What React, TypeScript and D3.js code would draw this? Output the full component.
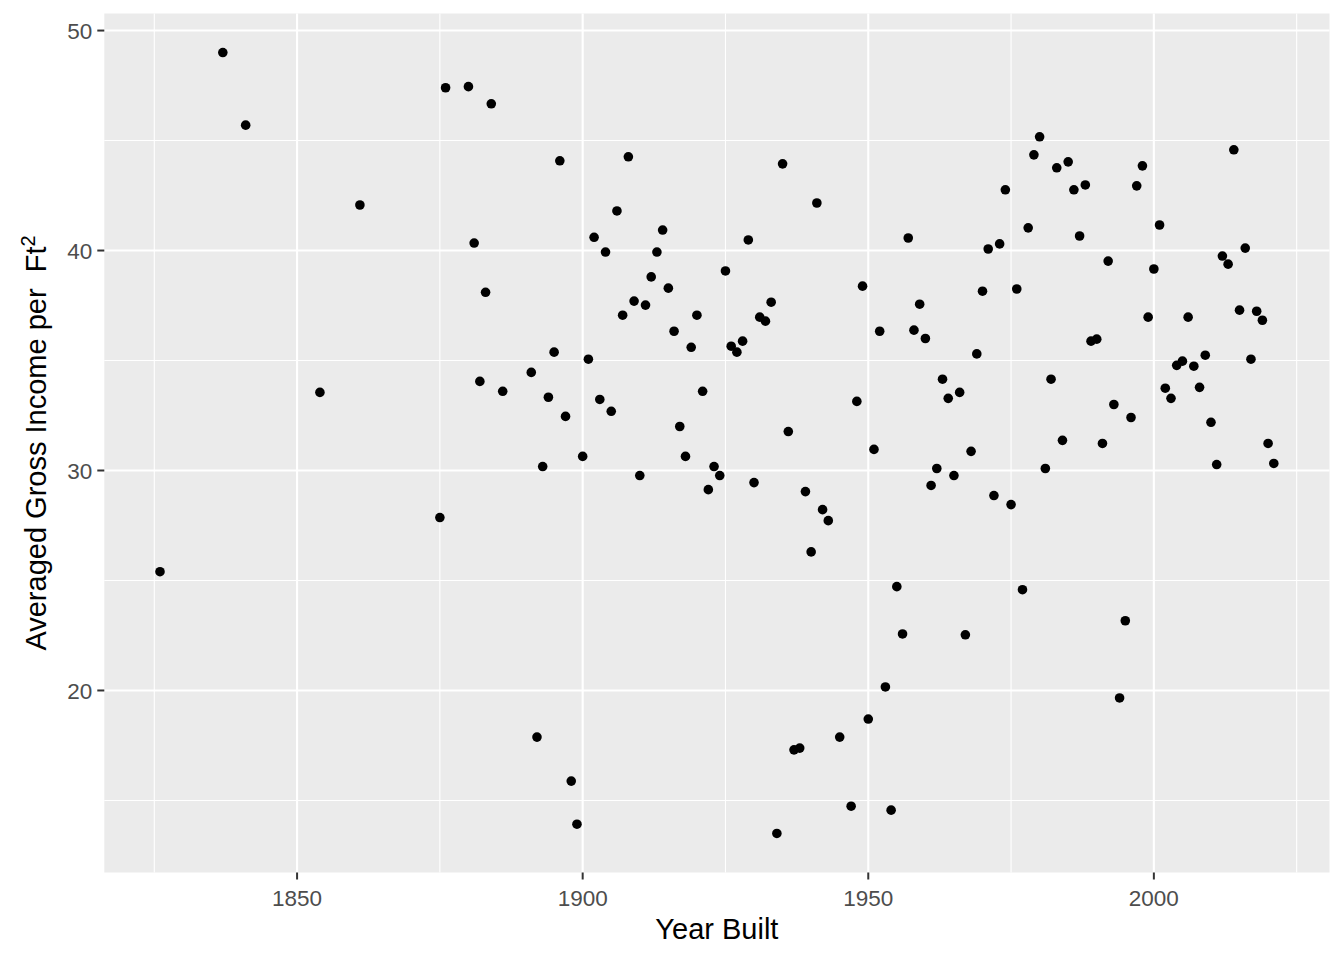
import * as d3 from 'd3';
import { useRef, useEffect } from 'react';

// Year built vs averaged gross income per ft²
const years = [
  1826, 1837, 1841, 1854, 1861, 1875, 1876, 1880, 1884, 1881, 1882, 1883, 1886, 1891, 1892, 1893,
  1894, 1895, 1896, 1897, 1898, 1899, 1900, 1901, 1902, 1903, 1904, 1905, 1906, 1907, 1908, 1909,
  1910, 1911, 1912, 1913, 1914, 1915, 1916, 1917, 1918, 1919, 1920, 1921, 1922, 1923, 1924, 1925,
  1926, 1927, 1928, 1929, 1930, 1931, 1932, 1933, 1934, 1935, 1936, 1937, 1938, 1939, 1940, 1941,
  1942, 1943, 1945, 1947, 1948, 1949, 1950, 1951, 1952, 1953, 1954, 1955, 1956, 1957, 1958, 1959,
  1960, 1961, 1962, 1963, 1964, 1965, 1966, 1967, 1968, 1969, 1970, 1971, 1972, 1973, 1974, 1975,
  1976, 1977, 1978, 1979, 1980, 1981, 1982, 1983, 1984, 1985, 1986, 1987, 1988, 1989, 1990, 1991,
  1992, 1993, 1994, 1995, 1996, 1997, 1998, 1999, 2000, 2001, 2002, 2003, 2004, 2005, 2006, 2007,
  2008, 2009, 2010, 2011, 2012, 2013, 2014, 2015, 2016, 2017, 2018, 2019, 2020, 2021,
];
const incomes = [
  25.4, 49.0, 45.7, 33.55, 42.07, 27.86, 47.4, 47.45, 46.67, 40.34, 34.05, 38.1, 33.6, 34.46, 17.88, 30.18,
  33.33, 35.38, 44.08, 32.46, 15.88, 13.92, 30.64, 35.06, 40.6, 33.23, 39.93, 32.69, 41.8, 37.06, 44.26, 37.7,
  29.77, 37.52, 38.8, 39.93, 40.93, 38.29, 36.33, 32.0, 30.64, 35.6, 37.06, 33.6, 29.13, 30.18, 29.77, 39.07,
  35.65, 35.38, 35.88, 40.48, 29.45, 36.97, 36.79, 37.65, 13.5, 43.94, 31.77, 17.3, 17.38, 29.04, 26.3, 42.16,
  28.22, 27.72, 17.88, 14.74, 33.14, 38.38, 18.7, 30.96, 36.33, 20.16, 14.56, 24.72, 22.57, 40.57, 36.38, 37.56,
  36.0, 29.32, 30.09, 34.15, 33.28, 29.77, 33.55, 22.53, 30.87, 35.3, 38.15, 40.07, 28.86, 40.3, 42.76, 28.45,
  38.25, 24.58, 41.03, 44.35, 45.17, 30.09, 34.15, 43.76, 31.37, 44.03, 42.76, 40.66, 42.98, 35.88, 35.97, 31.23,
  39.52, 33.0, 19.66, 23.17, 32.41, 42.94, 43.85, 36.97, 39.16, 41.16, 33.74, 33.28, 34.78, 34.97, 36.97, 34.74,
  33.78, 35.24, 32.19, 30.27, 39.75, 39.38, 44.58, 37.29, 40.11, 35.06, 37.24, 36.83, 31.23, 30.32,
];
const xTicks = [1850, 1900, 1950, 2000];
const xMinor = [1825, 1875, 1925, 1975, 2025];
const yTicks = [20, 30, 40, 50];
const yMinor = [15, 25, 35, 45];

export default function App() {
  const svgRef = useRef<SVGSVGElement | null>(null);

  useEffect(() => {
    const width = 1344;
    const height = 960;
    const margin = { top: 13.5, right: 14.5, bottom: 87.5, left: 104.3 };
    const innerWidth = width - margin.left - margin.right;
    const innerHeight = height - margin.top - margin.bottom;
    const font = '"Liberation Sans", Arial, sans-serif';

    // ggplot style 5% expansion
    const [xMin, xMax] = d3.extent(years) as [number, number];
    const [yMin, yMax] = d3.extent(incomes) as [number, number];
    const xPad = (xMax - xMin) * 0.05;
    const yPad = (yMax - yMin) * 0.05;
    const xScale = d3.scaleLinear().domain([xMin - xPad, xMax + xPad]).range([0, innerWidth]);
    const yScale = d3.scaleLinear().domain([yMin - yPad, yMax + yPad]).range([innerHeight, 0]);

    d3.select(svgRef.current).selectAll('*').remove();

    const root = d3.select(svgRef.current).attr('width', width).attr('height', height);
    root.append('rect').attr('width', width).attr('height', height).attr('fill', '#FFFFFF');

    const svg = root.append('g').attr('transform', `translate(${margin.left},${margin.top})`);

    // Panel
    svg.append('rect').attr('width', innerWidth).attr('height', innerHeight).attr('fill', '#EBEBEB');

    // Minor grid
    xMinor.forEach((v) => {
      svg.append('line')
        .attr('x1', xScale(v)).attr('x2', xScale(v))
        .attr('y1', 0).attr('y2', innerHeight)
        .attr('stroke', '#FFFFFF').attr('stroke-width', 1.1);
    });
    yMinor.forEach((v) => {
      svg.append('line')
        .attr('x1', 0).attr('x2', innerWidth)
        .attr('y1', yScale(v)).attr('y2', yScale(v))
        .attr('stroke', '#FFFFFF').attr('stroke-width', 1.1);
    });

    // Major grid + ticks + labels
    xTicks.forEach((v) => {
      svg.append('line')
        .attr('x1', xScale(v)).attr('x2', xScale(v))
        .attr('y1', 0).attr('y2', innerHeight)
        .attr('stroke', '#FFFFFF').attr('stroke-width', 2.1);
      svg.append('line')
        .attr('x1', xScale(v)).attr('x2', xScale(v))
        .attr('y1', innerHeight).attr('y2', innerHeight + 7)
        .attr('stroke', '#333333').attr('stroke-width', 2);
      svg.append('text')
        .attr('x', xScale(v)).attr('y', innerHeight + 33.5)
        .attr('text-anchor', 'middle')
        .attr('font-family', font).attr('font-size', '22.5px')
        .attr('fill', '#4D4D4D')
        .text(v);
    });
    yTicks.forEach((v) => {
      svg.append('line')
        .attr('x1', 0).attr('x2', innerWidth)
        .attr('y1', yScale(v)).attr('y2', yScale(v))
        .attr('stroke', '#FFFFFF').attr('stroke-width', 2.1);
      svg.append('line')
        .attr('x1', -7).attr('x2', 0)
        .attr('y1', yScale(v)).attr('y2', yScale(v))
        .attr('stroke', '#333333').attr('stroke-width', 2);
      svg.append('text')
        .attr('x', -12).attr('y', yScale(v))
        .attr('dy', '0.36em')
        .attr('text-anchor', 'end')
        .attr('font-family', font).attr('font-size', '22.5px')
        .attr('fill', '#4D4D4D')
        .text(v);
    });

    // Points
    years.forEach((yr, i) => {
      svg.append('circle')
        .attr('cx', xScale(yr))
        .attr('cy', yScale(incomes[i]))
        .attr('r', 4.8)
        .attr('fill', '#000000');
    });

    // Axis titles
    root.append('text')
      .attr('x', margin.left + innerWidth / 2)
      .attr('y', 939)
      .attr('text-anchor', 'middle')
      .attr('font-family', font).attr('font-size', '29px')
      .attr('fill', '#000000')
      .text('Year Built');

    const yTitle = root.append('text')
      .attr('transform', `translate(46,${margin.top + innerHeight / 2}) rotate(-90)`)
      .attr('text-anchor', 'middle')
      .attr('font-family', font).attr('font-size', '29px')
      .attr('fill', '#000000')
      .attr('xml:space', 'preserve');
    yTitle.append('tspan').text('Averaged Gross Income per  Ft');
    yTitle.append('tspan').attr('dy', '-11').attr('font-size', '20px').text('2');
  }, []);

  return (
    <div style={{ position: 'absolute', top: 0, left: 0 }}>
      <svg ref={svgRef} style={{ display: 'block' }} />
    </div>
  );
}
